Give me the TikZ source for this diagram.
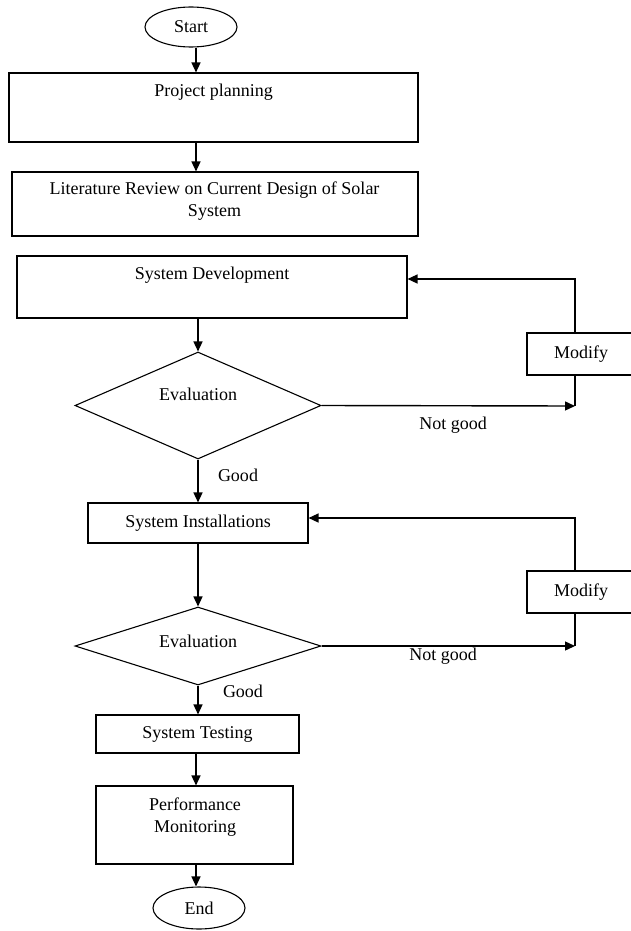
\documentclass[tikz,border=0pt]{standalone}
\usepackage{fontspec}
\setmainfont{Liberation Serif}
\usetikzlibrary{arrows.meta,shapes.geometric}
\begin{document}
\begin{tikzpicture}[x=1pt,y=-1pt,
  every node/.style={font=\fontsize{18}{22}\selectfont, inner sep=0pt},
  box/.style={draw, line width=1.1pt, rectangle},
  term/.style={draw, line width=1.1pt, ellipse},
  dec/.style={draw, line width=1.1pt, diamond},
  arr/.style={line width=1.4pt, -{Triangle[length=10pt,width=9pt]}},
  ln/.style={line width=1.4pt},
  txt/.style={align=center}]
\useasboundingbox (0,0) rectangle (631,931);

% nodes
\node[term, minimum width=92pt, minimum height=40pt] (start) at (191,27) {Start};
\node[box, minimum width=409pt, minimum height=69pt] (pp) at (213.5,107.5) {};
\node[anchor=base] (ppt) at (213.5,97) {Project planning};
\node[box, minimum width=406pt, minimum height=64pt] (lit) at (215,204) {};
\node[txt, anchor=north] (litt) at (214.5,182) {Literature Review on Current Design of Solar\\System};
\node[box, minimum width=390pt, minimum height=62pt] (sd) at (212,287) {};
\node[anchor=north] (sdt) at (212,267) {System Development};
\node[dec, minimum width=246pt, minimum height=107pt] (d1) at (198,405.5) {};
\node[anchor=base] (d1t) at (198,400) {Evaluation};
\node[box, minimum width=108pt, minimum height=42pt] (m1) at (581,354) {Modify};
\node[box, minimum width=220pt, minimum height=40pt] (si) at (198,523) {System Installations};
\node[dec, minimum width=246pt, minimum height=78pt] (d2) at (198,646) {};
\node[anchor=base] (d2t) at (198,647) {Evaluation};
\node[box, minimum width=108pt, minimum height=42pt] (m2) at (581,592) {Modify};
\node[box, minimum width=203pt, minimum height=38pt] (st) at (197.5,734) {System Testing};
\node[box, minimum width=197pt, minimum height=78pt] (pm) at (194.5,825) {};
\node[txt, anchor=north] (pmt) at (195,798) {Performance\\Monitoring};
\node[term, minimum width=92pt, minimum height=42pt] (end) at (199,908) {End};

% edge labels
\node[anchor=base] (ng1) at (453,429) {Not good};
\node[anchor=base] (ng2) at (443,660) {Not good};
\node[anchor=base] (g1) at (238,481) {Good};
\node[anchor=base] (g2) at (243,697) {Good};

% helper coordinates
\coordinate (ax) at (196,0);
\coordinate (c1) at (575,406);
\coordinate (c1t) at (575,279);
\coordinate (c2) at (575,646);
\coordinate (c2t) at (575,518);

% main flow
\draw[arr] (start.south -| ax) -- (pp.north -| ax);
\draw[arr] (pp.south -| ax) -- (lit.north -| ax);
\draw[arr] (sd.south -| d1.north) -- (d1.north);
\draw[arr] (d1.south) -- (si.north -| d1.south);
\draw[arr] (si.south -| d2.north) -- (d2.north);
\draw[arr] (d2.south) -- (st.north -| d2.south);
\draw[arr] (st.south -| ax) -- (pm.north -| ax);
\draw[arr] (pm.south -| ax) -- (end.north -| ax);

% loops
\draw[arr] (d1.east) -- (c1);
\draw[ln] (m1.south -| c1) -- (c1);
\draw[arr] (m1.north -| c1) -- (c1t) -- (sd.east |- c1t);
\draw[arr] (d2.east) -- (c2);
\draw[ln] (m2.south -| c2) -- (c2);
\draw[arr] (m2.north -| c2) -- (c2t) -- (si.east |- c2t);
\end{tikzpicture}
\end{document}
